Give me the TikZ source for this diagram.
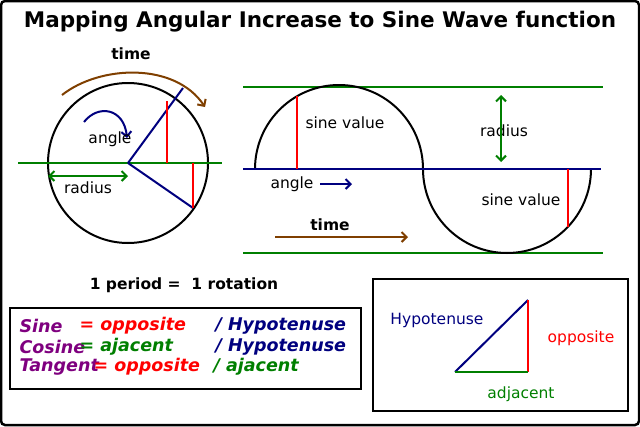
\documentclass[tikz,border=0pt]{standalone}
\usepackage{fontspec}
\setmainfont{DejaVu Sans}
\usetikzlibrary{arrows.meta}
\definecolor{navy}{HTML}{00007F}
\definecolor{dgreen}{HTML}{007F00}
\definecolor{brownish}{HTML}{7F3F00}
\definecolor{violet}{HTML}{7F007F}
\tikzset{
  ln/.style={line width=2pt},
  arr/.style={ln, -{Straight Barb[length=5pt]}},
  darr/.style={ln, {Straight Barb[length=5pt]}-{Straight Barb[length=5pt]}},
  lbl/.style={font=\fontsize{15.5}{18}\selectfont},
  rule/.style={font=\fontsize{17.5}{20}\selectfont\bfseries\itshape, anchor=west}
}
\begin{document}
\begin{tikzpicture}[x=1pt, y=-1pt]
            \useasboundingbox (0,0) rectangle (640,426);
            \draw[black, line width=2.5pt, rounded corners=4pt] (1,1) rectangle (639,425);
            \node[font=\fontsize{21.5}{25}\selectfont\bfseries] (title) at (320,22) {Mapping Angular Increase to Sine Wave function};

            % circle side
            \coordinate (c) at (128,163);
            \draw[black, ln] (c) circle (80);
            \draw[dgreen, ln] (18,163) -- (222,163);
            \coordinate (p1) at (183,88);
            \coordinate (p2) at (193,208);
            \draw[navy, ln] (c) -- (p1);
            \draw[navy, ln] (c) -- (p2);
            \draw[red, ln] (167,101) -- (167,163);
            \draw[red, ln] (193,163) -- (p2);
            \draw[navy, arr] (84,122) .. controls (98,104) and (124,108) .. (127,138);
            \node[lbl] (angle1) at (110,139) {angle};
            \draw[dgreen, darr] (48,176) -- (128,176);
            \node[lbl] (radius1) at (88,188) {radius};
            \draw[brownish, arr] (62,95) .. controls (100,65) and (175,62) .. (205,107);
            \node[lbl, font=\fontsize{15.5}{18}\selectfont\bfseries] (time1) at (131,54) {time};

            % sine side
            \draw[dgreen, ln] (243,87) -- (603,87);
            \draw[dgreen, ln] (243,253) -- (603,253);
            \draw[black, ln] (255,169) arc (180:360:84);
            \draw[black, ln] (423,169) arc (180:0:84);
            \draw[navy, ln] (243,169) -- (601,169);
            \draw[red, ln] (297,169) -- (297,96);
            \draw[red, ln] (568,169) -- (568,227);
            \node[lbl] (sine1) at (345,123) {sine value};
            \node[lbl] (sine2) at (521,200) {sine value};
            \node[lbl] (radius2) at (504,131) {radius};
            \draw[dgreen, darr] (501,95) -- (501,162);
            \node[lbl] (angle2) at (292,184) {angle};
            \draw[navy, arr] (320,184) -- (352,184);
            \node[lbl, font=\fontsize{15.5}{18}\selectfont\bfseries] (time2) at (330,225) {time};
            \draw[brownish, arr] (275,237) -- (408,237);

            \node[font=\fontsize{15.5}{18}\selectfont\bfseries] (period) at (184,285) {1 period =\ \ 1 rotation};

            % formula box
            \draw[black, ln] (10,308) rectangle (361,389);
            \node[rule, violet] (sine) at (16,326) {Sine};
            \node[rule, red] at (76,326) {= opposite};
            \node[rule, navy] at (212,326) {/ Hypotenuse};
            \node[rule, violet] (cosine) at (16,347) {Cosine};
            \node[rule, dgreen] at (76,347) {= ajacent};
            \node[rule, navy] at (212,347) {/ Hypotenuse};
            \node[rule, violet] (tangent) at (16,367) {Tangent};
            \node[rule, red] at (90,367) {= opposite};
            \node[rule, dgreen] at (210,367) {/ ajacent};

            % triangle box
            \draw[black, ln] (373,279) rectangle (628,411);
            \coordinate (a) at (455,372);
            \coordinate (b) at (528,300);
            \coordinate (r) at (528,372);
            \draw[navy, ln] (a) -- (b);
            \draw[red, ln] (b) -- (r);
            \draw[dgreen, ln] (a) -- (r);
            \node[lbl, navy] (hyp) at (437,320) {Hypotenuse};
            \node[lbl, red] (opp) at (581,338) {opposite};
            \node[lbl, dgreen] (adj) at (521,394) {adjacent};
        \end{tikzpicture}
\end{document}
